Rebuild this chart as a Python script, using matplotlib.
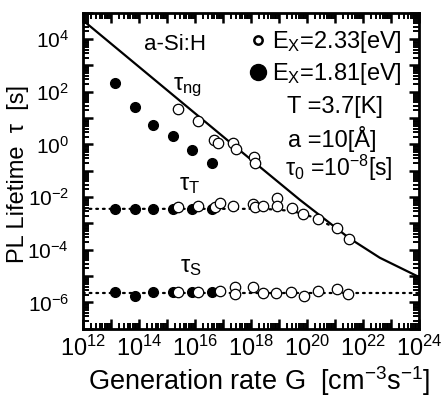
import matplotlib
matplotlib.use('Agg')
import matplotlib.pyplot as plt
import numpy as np
from matplotlib.ticker import LogLocator, FuncFormatter, NullFormatter
from matplotlib.lines import Line2D

plt.rcParams['font.family'] = ['Liberation Sans', 'DejaVu Sans']
plt.rcParams['mathtext.fontset'] = 'custom'
plt.rcParams['mathtext.rm'] = 'Liberation Sans'
plt.rcParams['mathtext.it'] = 'Liberation Sans'

# filled circles, Ex = 1.81 eV
G_f = [1.4e13, 7.2e13, 3.2e14, 1.6e15, 7.8e15, 4.1e16]
tng_f = [2.2e2, 2.7e1, 5.6, 2.1, 0.63, 0.19]
tT_f = [3.6e-3, 3.7e-3, 3.6e-3, 3.4e-3, 3.4e-3, 3.5e-3]
tS_f = [2.5e-6, 1.7e-6, 2.5e-6, 2.6e-6, 2.4e-6, 2.4e-6]

# open circles, Ex = 2.33 eV
G_ng_o = [2.5e15, 1.3e16, 4.8e16, 6.6e16, 2.3e17, 2.9e17, 1.3e18, 1.4e18]
tng_o = [22, 7.9, 1.5, 1.15, 1.15, 0.68, 0.34, 0.20]

G_T_o = [2.5e15, 1.3e16, 5.1e16, 7.8e16, 2.3e17, 1.2e18, 1.4e18, 2.7e18,
         8.5e18, 8.5e18, 2.9e19, 7.2e19, 2.5e20, 1.2e21, 3.2e21]
tT_o = [4.3e-3, 4.7e-3, 4.3e-3, 6.0e-3, 4.7e-3, 5.6e-3, 4.3e-3, 4.7e-3,
        9.3e-3, 4.7e-3, 3.9e-3, 2.3e-3, 1.5e-3, 6.8e-4, 2.6e-4]

G_S_o = [2.5e15, 1.3e16, 7.8e16, 2.7e17, 2.7e17, 1.2e18, 2.7e18, 7.8e18,
         2.7e19, 7.8e19, 2.5e20, 1.2e21, 2.9e21]
tS_o = [2.6e-6, 2.6e-6, 2.8e-6, 4.0e-6, 2.1e-6, 4.0e-6, 2.2e-6, 2.2e-6,
        2.4e-6, 1.8e-6, 2.8e-6, 3.2e-6, 2.1e-6]

# model curves
G_ng_line = [1e12, 1.4e17, 5.6e19, 3.2e21, 4e22, 1e24]
tng_line = [5.2e4, 1.5, 7.9e-3, 2.8e-4, 5e-5, 9.3e-6]
G_T_line = [1e12, 3e18, 3e19, 1.5e20, 6e20, 1.2e21]
tT_line = [3.6e-3, 3.6e-3, 3.0e-3, 1.8e-3, 9e-4, 6.5e-4]
G_S_line = [1e12, 1e24]
tS_line = [2.3e-6, 2.3e-6]

fig = plt.figure(figsize=(4.41, 4.01), dpi=100)
ax = fig.add_axes([0.188, 0.180, 0.762, 0.788])

ax.plot(G_ng_line, tng_line, '-', color='black', lw=1.6)
dots = dict(color='black', lw=1.6, linestyle=(0, (0.8, 2.2)), dash_capstyle='round')
ax.plot(G_T_line, tT_line, **dots)
ax.plot(G_S_line, tS_line, **dots)

fk = dict(marker='o', linestyle='none', ms=7, color='black')
ok = dict(marker='o', linestyle='none', ms=7.5, mfc='white', mec='black', mew=0.9)
for t in (tng_f, tT_f, tS_f):
    ax.plot(G_f, t, **fk)
ax.plot(G_ng_o, tng_o, **ok)
ax.plot(G_T_o, tT_o, **ok)
ax.plot(G_S_o, tS_o, **ok)

ax.set_xscale('log')
ax.set_yscale('log')
ax.set_xlim(1e12, 1e24)
ax.set_ylim(1e-7, 1e5)

def even_label(v, pos):
    e = int(round(np.log10(v)))
    return r'$\mathdefault{10^{%d}}$' % e if e % 2 == 0 else ''

for axis in (ax.xaxis, ax.yaxis):
    axis.set_major_locator(LogLocator(base=10, numticks=30))
    axis.set_minor_locator(LogLocator(base=10, subs=np.arange(2, 10), numticks=300))
    axis.set_major_formatter(FuncFormatter(even_label))
    axis.set_minor_formatter(NullFormatter())

ax.tick_params(which='both', direction='in', top=True, right=True)
ax.tick_params(which='major', length=7.5, width=1.8)
ax.tick_params(which='minor', length=4.5, width=1.4)
ax.tick_params(axis='x', which='major', pad=5, labelsize=17)
ax.tick_params(axis='y', which='major', pad=10, labelsize=15)
for s in ax.spines.values():
    s.set_linewidth(2)

ax.set_xlabel(r'Generation rate G  [cm$^{\mathdefault{-3}}$s$^{\mathdefault{-1}}$]', fontsize=19.5)
ax.xaxis.set_label_coords(0.524, -0.112)
ax.set_ylabel('PL Lifetime  τ  [s]', fontsize=17)
ax.yaxis.set_label_coords(-0.16, 0.49)

ax.text(0.274, 0.899, 'a-Si:H', transform=ax.transAxes, fontsize=16, ha='center', va='center')
ax.text(0.3125, 0.763, r'$\mathrm{τ_{ng}}$', transform=ax.transAxes, fontsize=17, ha='center', va='center')
ax.text(0.318, 0.456, r'$\mathrm{τ_{T}}$', transform=ax.transAxes, fontsize=17, ha='center', va='center')
ax.text(0.321, 0.196, r'$\mathrm{τ_{S}}$', transform=ax.transAxes, fontsize=17, ha='center', va='center')

handles = [Line2D([], [], marker='o', linestyle='none', ms=6, mfc='white', mec='black', mew=1.8),
           Line2D([], [], marker='o', linestyle='none', ms=11.5, color='black')]
labels = [r'$\mathrm{E_{X}}$=2.33[eV]', r'$\mathrm{E_{X}}$=1.81[eV]']
ax.legend(handles, labels, loc='upper left', bbox_to_anchor=(0.465, 0.985), frameon=False,
          fontsize=17, handlelength=0.6, handletextpad=0.3, labelspacing=0.25, borderpad=0)

ax.text(0.607, 0.703, 'T =3.7[K]', transform=ax.transAxes, fontsize=17, ha='left', va='center')
ax.text(0.610, 0.602, 'a =10[Å]', transform=ax.transAxes, fontsize=17, ha='left', va='center')
ax.text(0.601, 0.51, r'$\mathrm{τ_0}$ =10$^{\mathdefault{-8}}$[s]', transform=ax.transAxes,
        fontsize=16.5, ha='left', va='center')

fig.savefig('out.png', dpi=100)
